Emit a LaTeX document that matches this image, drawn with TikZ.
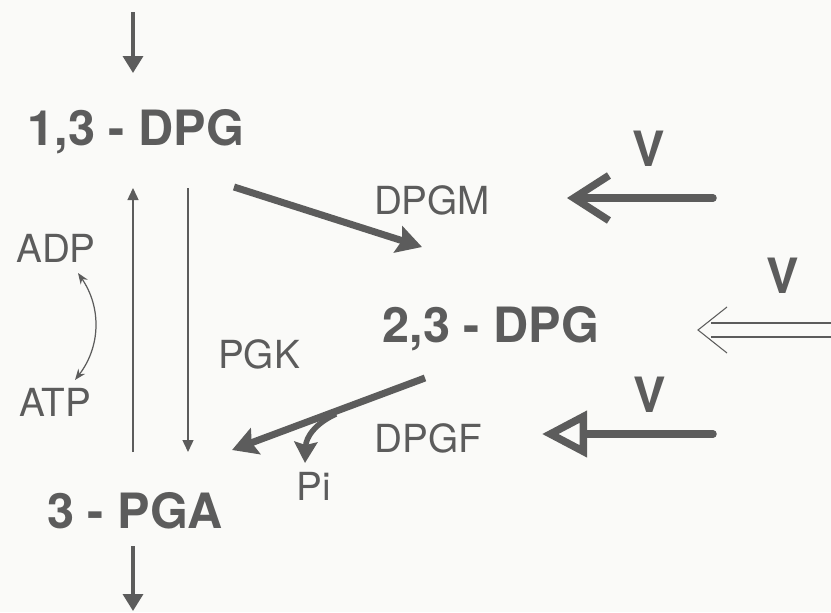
\documentclass[tikz,border=0pt]{standalone}
\usepackage{fontspec}
\newfontfamily\heros{TeX Gyre Heros}
\usetikzlibrary{arrows.meta}
\definecolor{ink}{RGB}{92,92,92}
\definecolor{paper}{RGB}{250,250,248}
\tikzset{
    metab/.style = {anchor=base, inner sep=0pt, text=ink, font=\heros\bfseries\fontsize{27.7}{30}\selectfont},
    enzyme/.style = {anchor=base, inner sep=0pt, text=ink, font=\heros\fontsize{22}{24}\selectfont},
    flow/.style = {-{Triangle[length=0.34cm,width=0.4cm]}, line width=0.07cm, draw=ink},
    pgkline/.style = {-{Triangle[length=0.24cm,width=0.22cm]}, line width=0.8pt, draw=ink},
    edgen/.style = {-{Stealth[length=0.5cm,width=0.55cm,inset=0.08cm]}, line width=0.14cm, draw=ink},
    edgep/.style = {-{Stealth[length=0.42cm,width=0.46cm,inset=0.06cm]}, line width=0.11cm, draw=ink},
    vopen/.style = {-{Straight Barb[length=0.7cm,width=0.9cm]}, line width=0.15cm, line cap=round, draw=ink},
    vtri/.style = {-{Triangle[open,length=0.9cm,width=0.9cm]}, line width=0.15cm, line cap=round, draw=ink},
    vhead/.style = {line width=0.6pt, draw=ink},
    exch/.style = {{Stealth[length=0.22cm,width=0.17cm]}-{Stealth[length=0.22cm,width=0.17cm]}, line width=0.7pt, draw=ink}
}
\begin{document}
\begin{tikzpicture}[x=0.02cm,y=-0.02cm]
\fill[paper] (0,0) rectangle (831,612);
\useasboundingbox (0,0) rectangle (831,612);
%
\node[metab] at (136,145) (dpg13) {1,3 - DPG};
\node[metab] at (491,342) (dpg23) {2,3 - DPG};
\node[metab] at (135,528) (pga) {3 - PGA};
\node[enzyme] at (56,262) (adp) {ADP};
\node[enzyme] at (55,416) (atp) {ATP};
\node[enzyme] at (259,368) (pgk) {PGK};
\node[enzyme] at (432,214) (dpgm) {DPGM};
\node[enzyme] at (428,452) (dpgf) {DPGF};
\node[enzyme] at (314,500) (pi) {Pi};
\node[metab] at (649,166) (v1) {V};
\node[metab] at (783,293) (v2) {V};
\node[metab] at (650,412) (v3) {V};
%
\coordinate (in) at (133,12);
\coordinate (out) at (133,611);
\coordinate (a1) at (133,73);
\coordinate (a2) at (133,546);
\coordinate (k1) at (133,452);
\coordinate (k2) at (133,188);
\coordinate (k3) at (188,188);
\coordinate (k4) at (188,452);
\coordinate (m1) at (234,187);
\coordinate (m2) at (422,247);
\coordinate (f1) at (425,378);
\coordinate (f2) at (232,450);
\coordinate (p1) at (336,414);
\coordinate (p2) at (305,463);
\coordinate (e1) at (78,273);
\coordinate (e2) at (75,380);
\coordinate (s1) at (713,198);
\coordinate (s2) at (567,198);
\coordinate (d1) at (832,323);
\coordinate (d2) at (711,323);
\coordinate (d3) at (832,337);
\coordinate (d4) at (711,337);
\coordinate (h0) at (698,330);
\coordinate (h1) at (727,307);
\coordinate (h2) at (727,353);
\coordinate (t1) at (713,434);
\coordinate (t2) at (542,434);
%
\draw[flow] (in) -- (a1);
\draw[flow] (a2) -- (out);
\draw[pgkline] (k1) -- (k2);
\draw[pgkline] (k3) -- (k4);
\draw[exch] (e1) to[bend left=36] (e2);
\draw[edgen] (m1) -- (m2);
\draw[edgen] (f1) -- (f2);
\draw[edgep] (p1) .. controls (314,424) and (306,438) .. (p2);
\draw[vopen] (s1) -- (s2);
\draw[vhead] (d1) -- (d2);
\draw[vhead] (d3) -- (d4);
\draw[vhead] (h1) -- (h0) -- (h2);
\draw[vtri] (t1) -- (t2);
\end{tikzpicture}
\end{document}
